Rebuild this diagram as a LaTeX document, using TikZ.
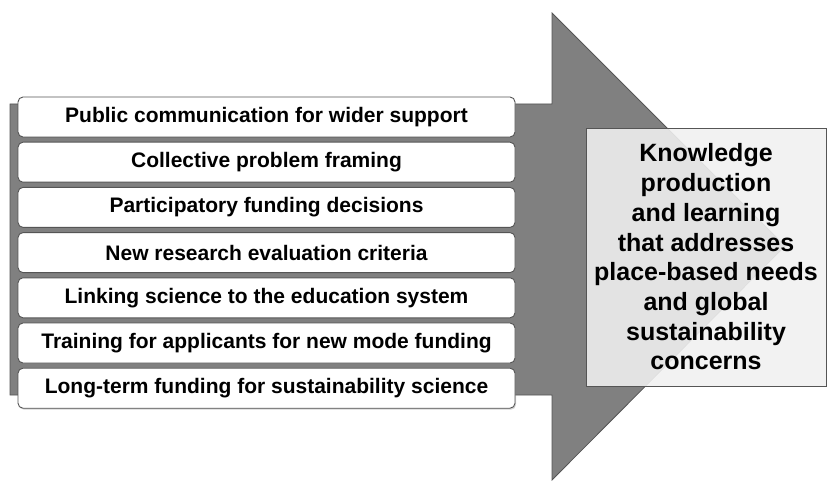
\documentclass[tikz,border=0pt]{standalone}
\usepackage{fontspec}
\setmainfont{Liberation Sans}
\usepackage{tikz}
\usetikzlibrary{positioning,shadows}
\definecolor{arrowgray}{HTML}{808080}
\definecolor{edgegray}{HTML}{555555}
\definecolor{goalgray}{HTML}{F0F0F0}
\begin{document}
\begin{tikzpicture}[x=1pt,y=-1pt,
  step box/.style={draw=edgegray, line width=0.9pt, fill=white, rounded corners=5pt,
    minimum width=497pt, minimum height=40pt, inner sep=0pt,
    font=\fontsize{21}{24}\selectfont\bfseries,
    drop shadow={shadow xshift=1pt, shadow yshift=-1.5pt, opacity=0.35}},
  goal box/.style={draw=edgegray, line width=0.9pt, fill=goalgray, fill opacity=0.89,
    text opacity=1, minimum width=240pt, minimum height=258pt, inner sep=0pt,
    align=center, font=\fontsize{25}{29.7}\selectfont\bfseries}]
  \useasboundingbox (0,0) rectangle (827,481);
  % big arrow
  \draw[draw=edgegray, fill=arrowgray, line width=0.8pt]
    (10,104) -- (552,104) -- (552,13) -- (785,246) -- (552,480) -- (552,395)
    -- (10,395) -- cycle;
  % steps
  \node[step box] (s1) at (266.5,117) {Public communication for wider support};
  \node[step box, below=4.3pt of s1] (s2) {Collective problem framing};
  \node[step box, below=4.3pt of s2] (s3) {Participatory funding decisions};
  \node[step box, below=4.3pt of s3] (s4) {New research evaluation criteria};
  \node[step box, below=4.3pt of s4] (s5) {Linking science to the education system};
  \node[step box, below=4.3pt of s5] (s6) {Training for applicants for new mode funding};
  \node[step box, below=4.3pt of s6] (s7) {Long-term funding for sustainability science};
  % outcome
  \node[goal box] (goal) at (706,257) {Knowledge\\ production\\ and learning\\
    that addresses\\ place-based needs\\ and global\\ sustainability\\ concerns};
\end{tikzpicture}
\end{document}
